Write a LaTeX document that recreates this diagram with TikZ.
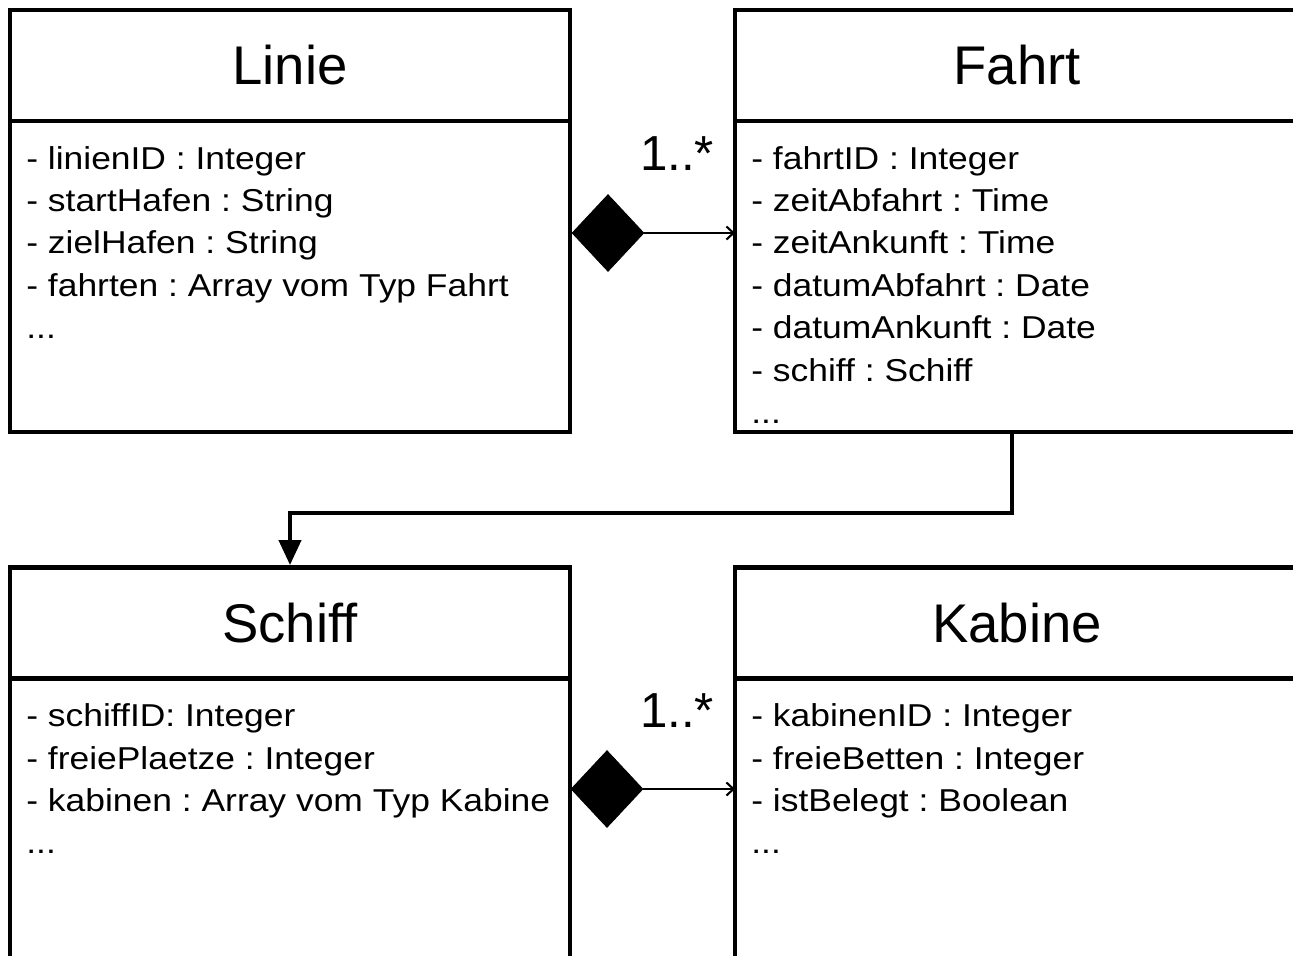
\documentclass[tikz,border=0pt]{standalone}
\usepackage{fontspec}
\setmainfont{Liberation Sans}
\newfontfamily\attrfont[FakeStretch=1.12]{Liberation Sans}
\frenchspacing
\usetikzlibrary{arrows.meta,positioning,shapes.geometric}

\begin{document}
\begin{tikzpicture}[x=1cm,y=1cm]
\tikzset{
  classtitle/.style={rectangle,draw,line width=2.8pt,outer sep=0pt,minimum width=11.20cm,minimum height=2.22cm,inner sep=0pt,font=\fontsize{31}{36}\selectfont},
  classbody/.style={rectangle,draw,line width=2.8pt,outer sep=0pt,minimum width=11.20cm,inner sep=0pt},
  attrlist/.style={align=left,inner sep=0pt,font=\attrfont\fontsize{18}{24.1}\selectfont},
  mult/.style={inner sep=0pt,font=\fontsize{28}{30}\selectfont},
  composite/.style={diamond,fill=black,draw=black,minimum width=1.44cm,minimum height=1.54cm,inner sep=0pt},
  assoc/.style={-{Straight Barb[length=1.4mm,width=2.6mm]},line width=1.2pt},
  navigable/.style={-{Triangle[length=5mm,width=4.4mm]},line width=2.4pt,shorten >=1.4pt}
}
\useasboundingbox (0,0) rectangle (25.86,-19.10);
\clip (0,0) rectangle (25.86,-19.10);
% classes
\node[classtitle] (n_linie) at (5.80,-1.31) {Linie};
\node[classbody,minimum height=6.22cm,below=0pt of n_linie] (n_linie_attr) {};
\node[attrlist,below right=0.50cm and 0.32cm of n_linie_attr.north west] (n_linie_list)
  {- linienID : Integer\\- startHafen : String\\- zielHafen : String\\- fahrten : Array vom Typ Fahrt\\...};
\node[classtitle,minimum width=11.28cm] (n_fahrt) at (20.34,-1.31) {Fahrt};
\node[classbody,minimum width=11.28cm,minimum height=6.22cm,below=0pt of n_fahrt] (n_fahrt_attr) {};
\node[attrlist,below right=0.50cm and 0.32cm of n_fahrt_attr.north west] (n_fahrt_list)
  {- fahrtID : Integer\\- zeitAbfahrt : Time\\- zeitAnkunft : Time\\- datumAbfahrt : Date\\- datumAnkunft : Date\\- schiff : Schiff\\...};
\node[classtitle] (n_schiff) at (5.80,-12.46) {Schiff};
\node[classbody,minimum height=5.84cm,below=0pt of n_schiff] (n_schiff_attr) {};
\node[attrlist,below right=0.50cm and 0.32cm of n_schiff_attr.north west] (n_schiff_list)
  {- schiffID: Integer\\- freiePlaetze : Integer\\- kabinen : Array vom Typ Kabine\\...};
\node[classtitle,minimum width=11.28cm] (n_kabine) at (20.34,-12.46) {Kabine};
\node[classbody,minimum width=11.28cm,minimum height=5.84cm,below=0pt of n_kabine] (n_kabine_attr) {};
\node[attrlist,below right=0.50cm and 0.32cm of n_kabine_attr.north west] (n_kabine_list)
  {- kabinenID : Integer\\- freieBetten : Integer\\- istBelegt : Boolean\\...};
% compositions
\node[composite] (n_comp_top) at (12.16,-4.66) {};
\node[composite] (n_comp_bot) at (12.14,-15.78) {};
\node[mult,anchor=base] (n_mult_top) at (13.54,-3.40) {1..*};
\node[mult,anchor=base] (n_mult_bot) at (13.54,-14.54) {1..*};
\draw[assoc] (n_comp_top.east) -- (n_comp_top.east -| n_fahrt_attr.west);
\draw[assoc] (n_comp_bot.east) -- (n_comp_bot.east -| n_kabine_attr.west);
% Fahrt -> Schiff
\coordinate (c_turn) at (12.00,-10.26);
\draw[navigable] ([xshift=-0.10cm]n_fahrt_attr.south) |- (c_turn) -| (n_schiff.north);
\end{tikzpicture}
\end{document}
